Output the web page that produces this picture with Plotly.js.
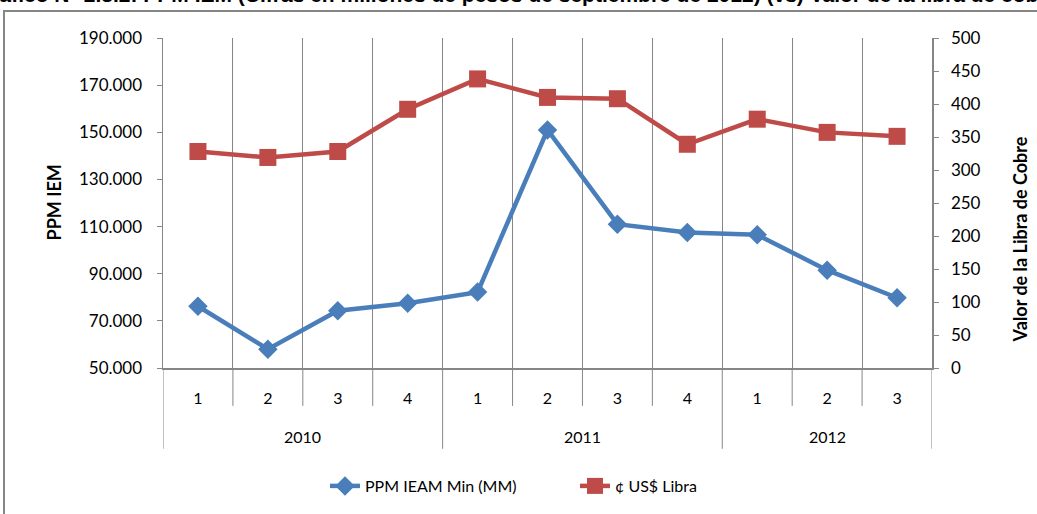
<!DOCTYPE html>
<html>
<head>
<meta charset="utf-8">
<script src="https://cdn.plot.ly/plotly-3.0.1.min.js"></script>
<style>html,body{margin:0;padding:0;background:#fff;}#chart{width:1037px;height:514px;}</style>
</head>
<body>
<div id="chart"></div>
<script>
var years = ['2010','2010','2010','2010','2011','2011','2011','2011','2012','2012','2012'];
var quarters = ['1','2','3','4','1','2','3','4','1','2','3'];
var ppmIeam = [76200, 58000, 74300, 77500, 82200, 151000, 111000, 107500, 106500, 91500, 79800];
var usLibra = [328, 319, 328, 392, 438, 410, 408, 339, 377, 357, 351];

var titleText = 'Gráfico N° 2.3.2: PPM IEM (Cifras en millones de pesos de septiembre de 2012) (vs) Valor de la libra de cobre';
var yTitleLeft = 'PPM IEM';
var yTitleRight = 'Valor de la Libra de Cobre';

var blue = '#4a7ebb', red = '#be4b48', gray = '#868686';
var fontFam = 'Lato, "Open Sans", sans-serif';

// category keys (unique) built from years and quarters
var keys = years.map(function(y, i){ return y + '-' + quarters[i]; });

var traces = [
  {
    x: keys, y: ppmIeam, name: 'PPM IEAM Min (MM)',
    type: 'scatter', mode: 'lines+markers',
    line: {color: blue, width: 4.5},
    marker: {symbol: 'diamond', size: 15, color: blue},
    yaxis: 'y'
  },
  {
    x: keys, y: usLibra, name: '¢ US$ Libra',
    type: 'scatter', mode: 'lines+markers',
    line: {color: red, width: 4.5},
    marker: {symbol: 'square', size: 17, color: red},
    yaxis: 'y2'
  }
];

var L = 163, R = 932, T = 38, B = 369, W = 1037, H = 514;
function px(x){ return (x - L) / (R - L); }
function py(y){ return (B - y) / (B - T); }

// divider lines below the x axis and year group labels
var shapes = [
  {type: 'rect', xref: 'paper', yref: 'paper', x0: px(4), x1: px(1100), y0: py(11), y1: py(600),
   line: {color: gray, width: 2}, fillcolor: 'rgba(0,0,0,0)', layer: 'below'}
];
var annotations = [];
var n = keys.length;
for (var i = 0; i <= n; i++) {
  var isGroupEdge = (i === 0 || i === n || years[i] !== years[i - 1]);
  shapes.push({type: 'line', xref: 'x', yref: 'paper', x0: i - 0.5, x1: i - 0.5,
               y0: 0, y1: isGroupEdge ? py(450) : py(407),
               line: {color: gray, width: 1}});
}
var start = 0;
for (var j = 1; j <= n; j++) {
  if (j === n || years[j] !== years[start]) {
    annotations.push({text: years[start], xref: 'x', yref: 'paper', x: (start + j - 1) / 2, y: py(438),
                      xanchor: 'center', yanchor: 'middle', showarrow: false,
                      font: {family: fontFam, size: 16, color: '#000'}});
    start = j;
  }
}
annotations.push({text: '<b>' + titleText + '</b>', xref: 'paper', yref: 'paper', x: px(516), y: py(8),
   xanchor: 'center', yanchor: 'bottom', showarrow: false,
   font: {family: '"Liberation Sans", Arial, sans-serif', size: 21, color: '#000'}});
annotations.push({text: '<b>' + yTitleLeft + '</b>', xref: 'paper', yref: 'paper', x: px(54), y: py(203),
   xanchor: 'center', yanchor: 'middle', textangle: -90, showarrow: false,
   font: {family: fontFam, size: 18, color: '#000'}});
annotations.push({text: '<b>' + yTitleRight + '</b>', xref: 'paper', yref: 'paper', x: px(1020), y: py(240),
   xanchor: 'center', yanchor: 'middle', textangle: -90, showarrow: false,
   font: {family: fontFam, size: 18, color: '#000'}});

var layout = {
  width: W, height: H,
  margin: {l: L, r: W - R, t: T, b: H - B, pad: 0},
  paper_bgcolor: '#fff', plot_bgcolor: '#fff',
  separators: ',.',
  font: {family: fontFam, size: 16, color: '#000'},
  showlegend: true,
  legend: {orientation: 'h', x: px(325), xanchor: 'left', y: py(486), yanchor: 'middle',
           font: {family: fontFam, size: 16, color: '#000'}, bgcolor: 'rgba(0,0,0,0)',
           entrywidth: 205},
  xaxis: {
    type: 'category', automargin: false,
    tickmode: 'array', tickvals: keys, ticktext: quarters,
    tickson: 'boundaries',
    showgrid: true, gridcolor: gray, gridwidth: 1,
    showline: true, linecolor: gray, linewidth: 1.5,
    ticks: '', ticklabelstandoff: 15,
    tickfont: {family: fontFam, size: 16, color: '#000'},
    zeroline: false, range: [-0.5, n - 0.5]
  },
  yaxis: {
    automargin: false,
    range: [50000, 190000], dtick: 20000, tick0: 50000, tickformat: ',.0f',
    showgrid: false, zeroline: false,
    showline: true, linecolor: gray, linewidth: 1.5,
    ticks: 'outside', ticklen: 5, tickcolor: gray, ticklabelstandoff: 11,
    tickfont: {family: fontFam, size: 17, color: '#000'}
  },
  yaxis2: {
    automargin: false,
    overlaying: 'y', side: 'right', anchor: 'x',
    range: [0, 500], dtick: 50,
    showgrid: false, zeroline: false,
    showline: true, linecolor: gray, linewidth: 1.5,
    ticks: 'outside', ticklen: 5, tickcolor: gray, ticklabelstandoff: 9,
    tickfont: {family: fontFam, size: 17, color: '#000'}
  },
  shapes: shapes,
  annotations: annotations
};

Plotly.newPlot('chart', traces, layout, {displayModeBar: false, staticPlot: true});
</script>
</body>
</html>
